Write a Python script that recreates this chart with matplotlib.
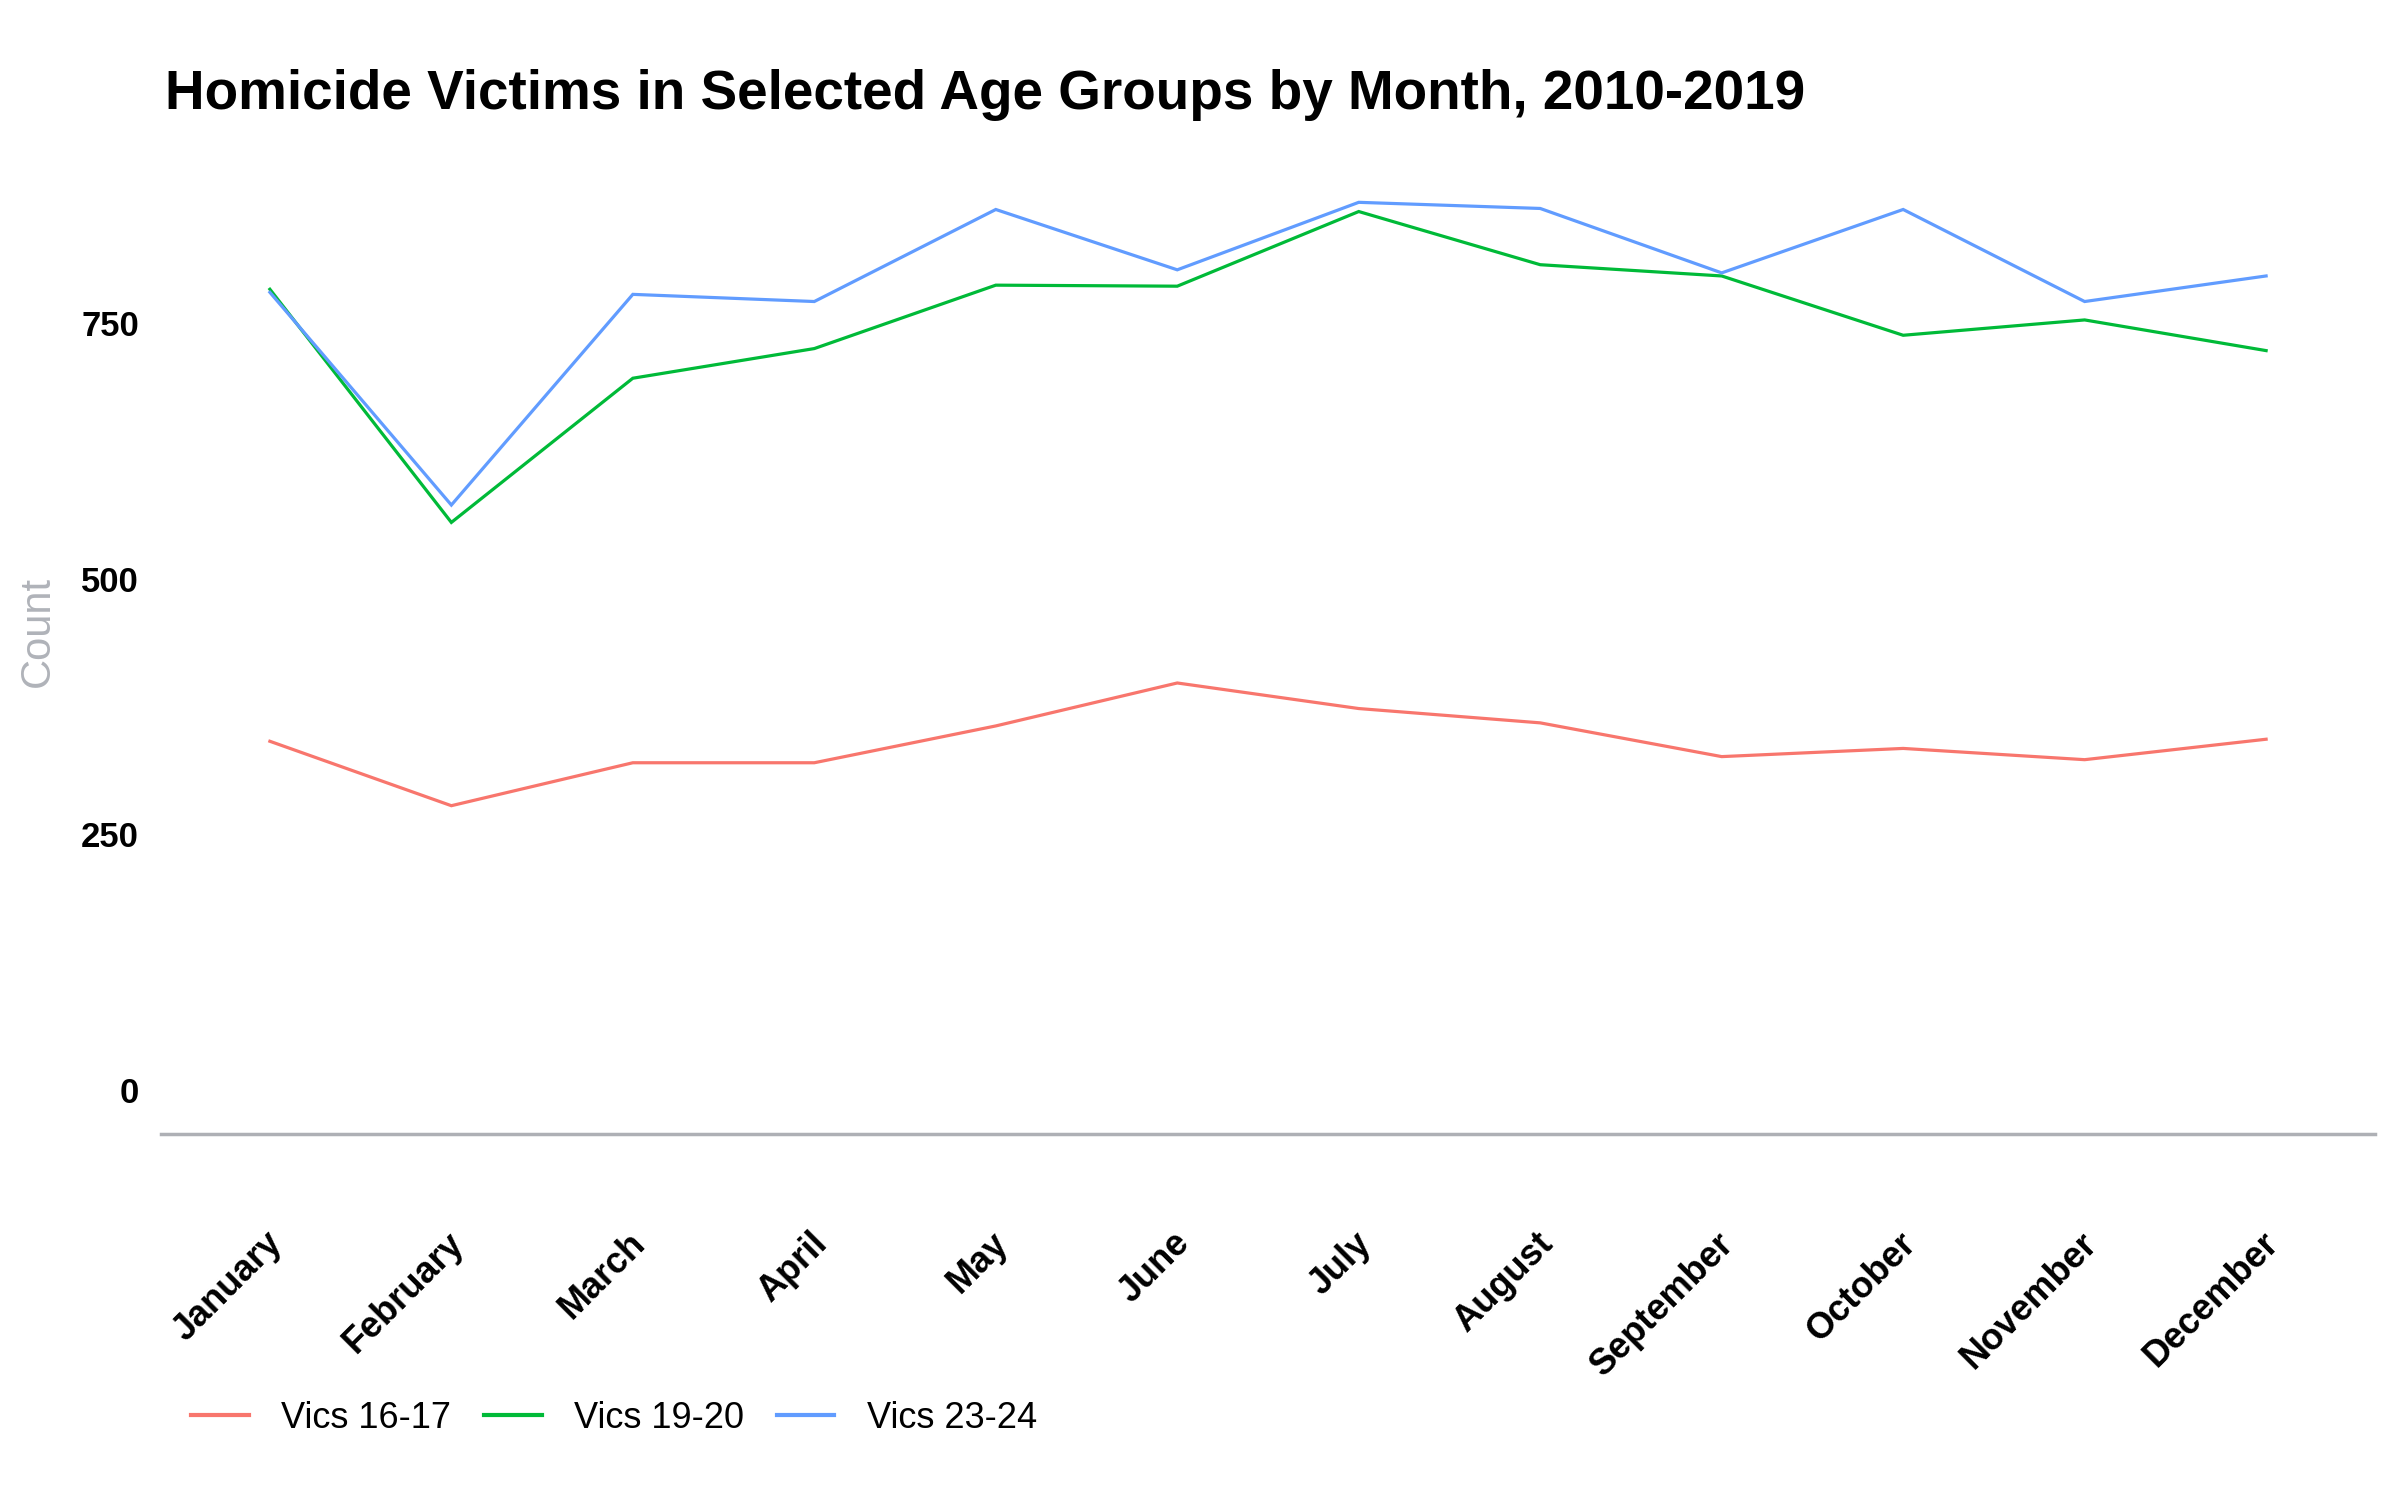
import matplotlib
matplotlib.use("Agg")
import matplotlib.pyplot as plt
from matplotlib.transforms import ScaledTranslation

months = ["January", "February", "March", "April", "May", "June", "July",
          "August", "September", "October", "November", "December"]
vics_16_17 = [341, 278, 320, 320, 356, 398, 373, 359, 326, 334, 323, 343]
vics_19_20 = [783, 555, 696, 725, 787, 786, 859, 807, 796, 738, 753, 723]
vics_23_24 = [780, 572, 778, 771, 861, 802, 868, 862, 799, 861, 771, 796]
series_labels = ["Vics 16-17", "Vics 19-20", "Vics 23-24"]
colors = ["#F8766D", "#00BA38", "#619CFF"]
yticks = [0, 250, 500, 750]

plt.rcParams['font.family'] = ['Liberation Sans', 'DejaVu Sans']

W, H = 2400, 1500
fig = plt.figure(figsize=(24, 15), dpi=100)
left, right = 161 / W, 2375 / W
top_px, bot_px = 150, 1134
ax = fig.add_axes([left, 1 - bot_px / H, right - left, (bot_px - top_px) / H])

x = list(range(len(months)))
for vals, lab, c in zip([vics_16_17, vics_19_20, vics_23_24], series_labels, colors):
    ax.plot(x, vals, color=c, lw=2.3, label=lab, solid_joinstyle='miter')

# y limits: 0 at px 1090, 750 at px 323
ppu = (1090 - 323) / 750
ax.set_ylim(-(bot_px - 1090) / ppu, (1090 - top_px) / ppu)
ax.set_xlim(-0.6, len(months) - 1 + 0.6)

for s in ["top", "right", "left"]:
    ax.spines[s].set_visible(False)
ax.spines["bottom"].set_color("#AEB0B5")
ax.spines["bottom"].set_linewidth(2.5)

ax.set_yticks(yticks)
ax.set_yticklabels([str(v) for v in yticks], fontsize=25, fontweight='bold')
ax.set_xticks(x)
ax.set_xticklabels(months, fontsize=26, fontweight='bold', rotation=45,
                   ha='right', va='top', rotation_mode='anchor')
ax.tick_params(axis='y', length=0, pad=16)
ax.tick_params(axis='x', length=0, pad=66)
shift = ScaledTranslation(-5 / 100, 0, fig.dpi_scale_trans)
for lbl in ax.get_xticklabels():
    lbl.set_transform(lbl.get_transform() + shift)
ax.grid(False)

fig.text(165 / W, 1 - 95 / H, "Homicide Victims in Selected Age Groups by Month, 2010-2019",
         fontsize=39.5, fontweight='bold', ha='left', va='center')
fig.text(38 / W, 1 - 631 / H, "Count", fontsize=30, color="#B0B3B9",
         rotation=90, ha='center', va='center')

leg = fig.legend(loc='center left', bbox_to_anchor=(191 / W, 1 - 1418 / H), ncol=3,
                 frameon=False, fontsize=26, handlelength=1.6, handletextpad=0.9,
                 columnspacing=0.9, borderpad=0, borderaxespad=0)
for l in leg.get_lines():
    l.set_linewidth(3)

fig.savefig("out.png", dpi=100, facecolor='white')
